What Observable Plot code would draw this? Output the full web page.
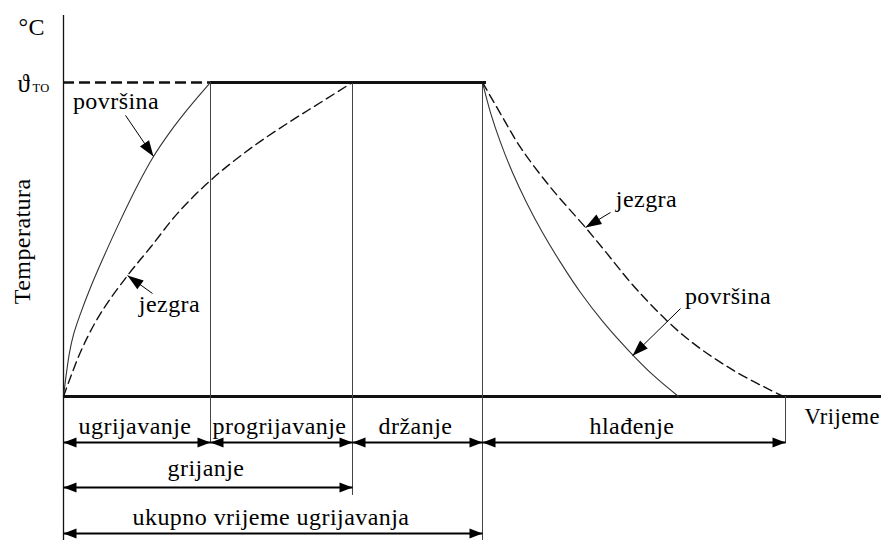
<!DOCTYPE html>
<html>
<head>
<meta charset="utf-8">
<script src="https://cdn.jsdelivr.net/npm/d3@7"></script>
<script src="https://cdn.jsdelivr.net/npm/@observablehq/plot@0.6"></script>
<style>
  html, body { margin: 0; padding: 0; background: #fff; }
  #chart svg { display: block; }
  #chart svg text { letter-spacing: 0.45px; }
</style>
</head>
<body>
<div id="chart"></div>
<script>
// ---------- data (time in arbitrary units, temperature with ϑTO = 100) ----------
const unitLabel = "°C";
const thetaSymbol = "ϑ";
const thetaSub = "TO";
const yTitle = "Temperatura";
const xTitle = "Vrijeme";
const holdTemp = 100;

const phaseNames = ["ugrijavanje", "progrijavanje", "držanje", "hlađenje"];
const phaseBounds = [0, 14.7, 28.9, 41.9, 72.2];
const spanNames = ["grijanje", "ukupno vrijeme ugrijavanja"];
const spanEnds = [28.9, 41.9];

// surface (solid) heating
const surfHeatT = [0, 0.3, 0.6, 1.0, 1.7, 2.7, 3.9, 5.5, 7.5, 9.0, 10.7, 12.4, 14.7];
const surfHeatV = [0, 7.6, 14.0, 19.7, 26.4, 34.7, 43.6, 54.8, 67.8, 76.4, 84.4, 91.4, 100];
// core (dashed) heating
const coreHeatT = [0, 0.7, 1.9, 3.7, 6.4, 8.7, 11.4, 14.7, 18.7, 22.7, 25.7, 28.9];
const coreHeatV = [0, 6.1, 15.6, 26.4, 38.5, 47.5, 58.3, 68.8, 79.0, 87.6, 93.6, 100];
// surface (solid) cooling
const surfCoolT = [41.9, 42.7, 43.7, 44.9, 46.3, 47.9, 49.7, 51.7, 54.0, 56.7, 59.0, 61.5];
const surfCoolV = [100, 90.4, 80.9, 71.3, 61.8, 52.2, 42.7, 33.1, 23.6, 14.0, 6.7, 0];
// core (dashed) cooling
const coreCoolT = [41.9, 43.8, 45.7, 48.7, 52.2, 54.1, 57.4, 62.0, 67.0, 72.0];
const coreCoolV = [100, 89.5, 79.3, 66.6, 53.8, 46.5, 33.8, 19.4, 8.3, 0];

// curve call-outs
const calloutNames = ["površina", "jezgra", "jezgra", "površina"];
const calloutT = [5.25, 10.6, 58.3, 66.45];
const calloutV = [91.4, 26.75, 60.2, 29.6];
const pointerFromT = [6.2, 8.9, 54.7, 61.7];
const pointerFromV = [89.5, 32.8, 58.6, 28.0];
const pointerToT = [9.0, 6.4, 52.2, 56.9];
const pointerToV = [76.4, 38.5, 53.8, 13.0];

// ---------- build tables ----------
const zipXY = (T, V) => T.map((t, i) => ({t, v: V[i]}));
const surfHeat = zipXY(surfHeatT, surfHeatV);
const coreHeat = zipXY(coreHeatT, coreHeatV);
const surfCool = zipXY(surfCoolT, surfCoolV);
const coreCool = zipXY(coreCoolT, coreCoolV);

const ROW1 = -14.65, ROW2 = -29.0, ROW3 = -43.6;
const LAB1 = -11.8, LAB2 = -25.2, LAB3 = -40.8;
const BOTTOM = -46;

const dims = [
  ...phaseNames.map((name, i) => ({name, x1: phaseBounds[i], x2: phaseBounds[i + 1], y: ROW1, ly: LAB1})),
  ...spanNames.map((name, i) => ({name, x1: 0, x2: spanEnds[i], y: i === 0 ? ROW2 : ROW3, ly: i === 0 ? LAB2 : LAB3}))
];
const verticals = [
  {x: phaseBounds[1], y1: holdTemp, y2: -15},
  {x: phaseBounds[2], y1: holdTemp, y2: -31.5},
  {x: phaseBounds[3], y1: holdTemp, y2: BOTTOM},
  {x: phaseBounds[4], y1: 0, y2: -15}
];
const callouts = calloutNames.map((name, i) => ({
  name, t: calloutT[i], v: calloutV[i],
  x1: pointerFromT[i], y1: pointerFromV[i], x2: pointerToT[i], y2: pointerToV[i]
}));

const FONT = '"Liberation Serif", "Times New Roman", "DejaVu Serif", serif';
const FS = 24;

const chart = Plot.plot({
  width: 881,
  height: 540,
  marginLeft: 63,
  marginRight: 0,
  marginTop: 15,
  marginBottom: 144,
  x: {domain: [0, 81.8], axis: null},
  y: {domain: [0, 121.3], axis: null},
  style: {fontFamily: FONT, fontSize: FS + "px", background: "white", color: "black"},
  marks: [
    // axes
    Plot.ruleX([0], {y1: BOTTOM, y2: 121.3, stroke: "#111", strokeWidth: 1.3}),
    Plot.ruleY([0], {x1: 0, x2: 81.8, stroke: "#111", strokeWidth: 3}),
    // holding temperature line
    Plot.ruleY([holdTemp], {x1: 0, x2: phaseBounds[1], stroke: "#111", strokeWidth: 2.5, strokeDasharray: "11,5"}),
    Plot.ruleY([holdTemp], {x1: phaseBounds[1], x2: phaseBounds[3] + 0.4, stroke: "#111", strokeWidth: 3}),
    // phase boundaries
    Plot.ruleX(verticals, {x: "x", y1: "y1", y2: "y2", stroke: "#444", strokeWidth: 1}),
    // curves
    Plot.line(surfHeat, {x: "t", y: "v", curve: "catmull-rom", stroke: "#333", strokeWidth: 1.1}),
    Plot.line(coreHeat, {x: "t", y: "v", curve: "catmull-rom", stroke: "#111", strokeWidth: 1.4, strokeDasharray: "9,5"}),
    Plot.line(surfCool, {x: "t", y: "v", curve: "catmull-rom", stroke: "#333", strokeWidth: 1.1}),
    Plot.line(coreCool, {x: "t", y: "v", curve: "catmull-rom", stroke: "#111", strokeWidth: 1.4, strokeDasharray: "9,5"}),
    // dimension arrows
    Plot.link(dims, {x1: "x1", x2: "x2", y1: "y", y2: "y", stroke: "black", strokeWidth: 2, markerStart: "arrow", markerEnd: "arrow"}),
    // call-out arrows
    Plot.link(callouts, {x1: "x1", y1: "y1", x2: "x2", y2: "y2", stroke: "black", strokeWidth: 1, markerEnd: "arrow"}),
    // dimension labels
    Plot.text(dims, {x: d => (d.x1 + d.x2) / 2 - 0.2, y: "ly", text: "name", lineAnchor: "bottom", fontSize: FS, fill: "black"}),
    // call-out labels
    Plot.text(callouts, {x: "t", y: "v", text: "name", lineAnchor: "bottom", fontSize: FS, fill: "black"}),
    // axis labels
    Plot.text([unitLabel], {x: -4.5, y: 115, text: d => d, textAnchor: "start", lineAnchor: "bottom", fontSize: FS, fill: "black"}),
    Plot.text([thetaSymbol], {x: -4.6, y: 97.1, text: d => d, textAnchor: "start", lineAnchor: "bottom", fontSize: 25, fill: "black"}),
    Plot.text([thetaSub], {x: -3.1, y: 97.1, text: d => d, textAnchor: "start", lineAnchor: "bottom", fontSize: 12.5, fill: "black"}),
    Plot.text([yTitle], {x: -3.4, y: 49.4, text: d => d, rotate: -90, lineAnchor: "bottom", fontSize: FS, fill: "black"}),
    Plot.text([xTitle], {x: 81.65, y: -8.6, text: d => d, textAnchor: "end", lineAnchor: "bottom", fontSize: 22.5, fill: "black"})
  ]
});

// restyle arrow markers into filled, elongated heads
const sizes = [[13, 5], [16, 5.5]];
chart.querySelectorAll('g[aria-label="link"]').forEach((g, gi) => {
  const [len, hw] = sizes[gi] || sizes[0];
  g.querySelectorAll("marker").forEach(m => {
    m.setAttribute("viewBox", `${-len} ${-hw} ${len} ${2 * hw}`);
    m.setAttribute("markerWidth", len);
    m.setAttribute("markerHeight", 2 * hw);
    m.setAttribute("markerUnits", "userSpaceOnUse");
    m.setAttribute("refX", 0);
    m.setAttribute("refY", 0);
    m.setAttribute("orient", "auto-start-reverse");
    m.setAttribute("overflow", "visible");
    while (m.firstChild) m.removeChild(m.firstChild);
    const p = document.createElementNS("http://www.w3.org/2000/svg", "path");
    p.setAttribute("d", `M${-len},${-hw}L0,0L${-len},${hw}Z`);
    p.setAttribute("fill", "black");
    p.setAttribute("stroke", "none");
    m.appendChild(p);
  });
});

document.getElementById("chart").appendChild(chart);
</script>
</body>
</html>
